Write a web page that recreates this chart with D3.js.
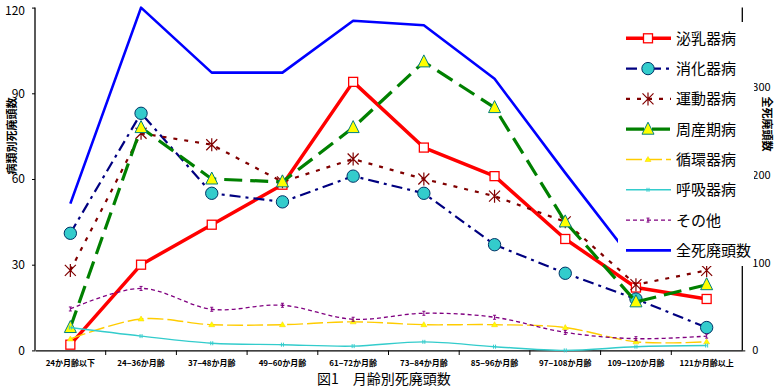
<!DOCTYPE html>
<html><head><meta charset="utf-8">
<script src="https://cdn.jsdelivr.net/npm/d3@7"></script>
<style>
html,body{margin:0;padding:0;background:#fff;}
svg{display:block;}
text{font-family:"Noto Sans CJK JP","Liberation Sans",sans-serif;}
</style></head>
<body><svg id="c" width="777" height="390"></svg>
<script>
const categories = ["24か月齢以下","24−36か月齢","37−48か月齢","49−60か月齢","61−72か月齢","73−84か月齢","85−96か月齢","97−108か月齢","109−120か月齢","121か月齢以上"];
const nyuuki   = [2,30,44,58,94,71,61,39,22,18];       // 泌乳器病
const shoukaki = [41,83,55,52,61,55,37,27,18,8];       // 消化器病
const undouki  = [28,76,72,59,67,60,54,45,23,28];      // 運動器病
const shusanki = [8,78,60,59,78,101,85,45,17,23];      // 周産期病
const junkanki = [4,11,9,9,10,9,9,8,3,3];              // 循環器病
const kokyuki  = [8,5,2.5,2,1.5,3,1.3,0,1.3,1.7];      // 呼吸器病
const sonota   = [14.5,21.7,14.4,15.8,10.9,13,11.6,6.3,4.1,5]; // その他
const total    = [167,390,316,316,375,370,309,202,98,100];     // 全死廃頭数
const leftTicks = [0,30,60,90,120];
const rightTicks = [0,100,200,300];
const seriesNames = ["泌乳器病","消化器病","運動器病","周産期病","循環器病","呼吸器病","その他","全死廃頭数"];
const titleText = "図1　月齢別死廃頭数";
const leftTitle = "病類別死廃頭数";
const rightTitle = "全死廃頭数";

const svg = d3.select("#c");
const x = d3.scaleBand().domain(categories).range([35, 742]);
const yL = d3.scaleLinear().domain([0,120]).range([350.4, 7.6]);
const yR = d3.scaleLinear().domain([0,390]).range([350.4, 7.6]);
const cx = c => x(c) + x.bandwidth()/2;

// marker drawers
const mk = {
  square:(g,px,py)=>g.append("rect").attr("x",px-4.5).attr("y",py-4.5).attr("width",9).attr("height",9).attr("fill","#fff").attr("stroke","#ff0000").attr("stroke-width",1.3),
  circle:(g,px,py)=>g.append("path").attr("d",d3.symbol(d3.symbolCircle, 120)()).attr("transform",`translate(${px},${py})`).attr("fill","#33cccc").attr("stroke","#003366").attr("stroke-width",1),
  star:(g,px,py)=>g.append("path").attr("d",`M${px},${py-6.5}L${px},${py+6.5}M${px-5.5},${py-5.5}L${px+5.5},${py+5.5}M${px-5.5},${py+5.5}L${px+5.5},${py-5.5}`).attr("stroke","#800000").attr("stroke-width",1.2).attr("fill","none"),
  tri:(g,px,py)=>g.append("path").attr("d",`M${px},${py-7}L${px+6},${py+5}L${px-6},${py+5}Z`).attr("fill","#ffff00").attr("stroke","#008080").attr("stroke-width",1),
  smalltri:(g,px,py)=>g.append("path").attr("d",`M${px},${py-3}L${px+3},${py+2}L${px-3},${py+2}Z`).attr("fill","#ffff00").attr("stroke","#ffcc00").attr("stroke-width",0.5),
  bars:(g,px,py)=>g.append("path").attr("d",`M${px-1},${py-2}L${px-1},${py+2}M${px+1},${py-2}L${px+1},${py+2}`).attr("stroke","#33cccc").attr("stroke-width",1),
  ibeam:(g,px,py)=>g.append("path").attr("d",`M${px},${py-2}L${px},${py+2}M${px-1.5},${py-2}L${px+1.5},${py-2}M${px-1.5},${py+2}L${px+1.5},${py+2}`).attr("stroke","#800080").attr("stroke-width",1),
  none:()=>{}
};

const series = [
  {name:seriesNames[0], data:nyuuki,   y:yL, color:"#ff0000", w:3.5, dash:null,       curve:d3.curveLinear,   marker:"square"},
  {name:seriesNames[1], data:shoukaki, y:yL, color:"#000080", w:2.2, dash:"11,5,3,5", curve:d3.curveLinear,   marker:"circle"},
  {name:seriesNames[2], data:undouki,  y:yL, color:"#800000", w:2.2, dash:"4,7",      curve:d3.curveLinear,   marker:"star"},
  {name:seriesNames[3], data:shusanki, y:yL, color:"#008000", w:3.2, dash:"18,8",     curve:d3.curveLinear,   marker:"tri"},
  {name:seriesNames[4], data:junkanki, y:yL, color:"#ffcc00", w:1.4, dash:"16,4",     curve:d3.curveCardinal, marker:"smalltri"},
  {name:seriesNames[5], data:kokyuki,  y:yL, color:"#33cccc", w:1.4, dash:null,       curve:d3.curveCardinal, marker:"bars"},
  {name:seriesNames[6], data:sonota,   y:yL, color:"#800080", w:1.3, dash:"4,3",      curve:d3.curveCardinal, marker:"ibeam"},
  {name:seriesNames[7], data:total,    y:yR, color:"#0000ff", w:2.6, dash:null,       curve:d3.curveLinear,   marker:"none"}
];

// axes
const axL = svg.append("g").attr("transform","translate(35,0)")
  .call(d3.axisLeft(yL).tickValues(leftTicks).tickSize(3).tickPadding(7));
axL.selectAll("text").attr("font-size",12).attr("font-family","Liberation Sans, Arial, sans-serif").attr("fill","#000")
  .attr("dy",d=>d===120?"0.55em":"0.32em");
const axR = svg.append("g").attr("transform","translate(742.3,0)")
  .call(d3.axisRight(yR).tickValues(rightTicks).tickSize(3).tickPadding(7));
axR.selectAll("text").attr("font-size",11).attr("font-family","Liberation Sans, Arial, sans-serif").attr("fill","#000");
[axL,axR].forEach(a=>{a.select(".domain").attr("stroke","#000").attr("stroke-width",1.3);a.selectAll("line").attr("stroke","#000");});
axL.select(".domain").attr("d","M0,7.6V350.4");
axR.select(".domain").attr("d","M0,7.6V350.4");

const axB = svg.append("g").attr("transform","translate(0,350.4)")
  .call(d3.axisBottom(x).tickSize(0).tickPadding(10));
axB.select(".domain").attr("stroke","#000").attr("stroke-width",1.3);
axB.selectAll("text").attr("font-size",8).attr("font-weight","bold").attr("fill","#000");
const bounds = categories.slice(1).map(c=>x(c));
svg.append("g").selectAll("line").data(bounds).join("line")
  .attr("x1",d=>d).attr("x2",d=>d).attr("y1",350.4).attr("y2",355).attr("stroke","#000");

// lines & markers
series.forEach(s=>{
  const line = d3.line().x((d,i)=>cx(categories[i])).y(d=>s.y(d)).curve(s.curve);
  const g = svg.append("g");
  g.append("path").attr("d",line(s.data)).attr("fill","none").attr("stroke",s.color)
    .attr("stroke-width",s.w).attr("stroke-dasharray",s.dash).attr("stroke-linejoin","round");
  s.data.forEach((d,i)=>mk[s.marker](g,cx(categories[i]),s.y(d)));
});

// legend
svg.append("rect").attr("x",618).attr("y",22).attr("width",136).attr("height",244).attr("fill","#fff");
series.forEach((s,i)=>{
  const ly = 38.3 + i*30.3;
  const g = svg.append("g");
  g.append("line").attr("x1",626).attr("x2",671).attr("y1",ly).attr("y2",ly)
    .attr("stroke",s.color).attr("stroke-width",s.w).attr("stroke-dasharray",s.dash);
  mk[s.marker](g,648,ly);
  g.append("text").attr("x",676).attr("y",ly).attr("dy","0.36em").attr("font-size",15).text(s.name);
});

// titles
svg.append("text").attr("transform","translate(12,136) rotate(-90)").attr("text-anchor","middle")
  .attr("dy","0.36em").attr("font-size",11).attr("font-weight","bold").text(leftTitle);
svg.append("text").attr("transform","translate(767,124) rotate(90)").attr("text-anchor","middle")
  .attr("dy","0.36em").attr("font-size",11).attr("font-weight","bold").text(rightTitle);
svg.append("text").attr("x",317).attr("y",379).attr("dy","0.36em").attr("font-size",14).text(titleText);
</script></body></html>
